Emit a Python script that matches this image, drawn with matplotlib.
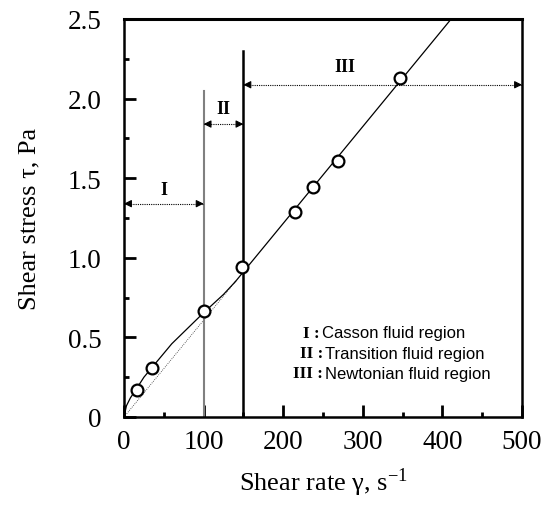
import matplotlib
matplotlib.use("Agg")
import matplotlib.pyplot as plt
from matplotlib.ticker import MultipleLocator, FuncFormatter

plt.rcParams['font.family'] = ['Liberation Serif', 'DejaVu Serif']
plt.rcParams['mathtext.fontset'] = 'stix'

# measured data
shear_rate = [16, 35, 100, 148, 215, 238, 269, 347]
shear_stress = [0.17, 0.31, 0.665, 0.94, 1.285, 1.445, 1.605, 2.13]

# fitted Casson curve
casson_x = [0, 3, 8, 16, 25, 35, 60, 100, 125, 140]
casson_y = [0, 0.07, 0.12, 0.18, 0.25, 0.31, 0.46, 0.655, 0.77, 0.851]

# Newtonian line
newton_x = [0, 140, 411]
newton_y = [0, 0.851, 2.5]

# region boundaries
boundary_x = [100, 150]
boundary_top = [2.05, 2.30]
region_names = ["I", "II", "III"]
region_start = [0, 100, 150]
region_end = [100, 150, 500]
region_arrow_y = [1.34, 1.84, 2.087]
region_label_y = [1.43, 1.94, 2.2]
region_label_x = [50, 125, 278]

legend_numerals = ["I :", "II :", "III :"]
legend_texts = ["Casson fluid region", "Transition fluid region", "Newtonian fluid region"]

fig = plt.figure(figsize=(5.5, 5.1), dpi=100)
ax = fig.add_axes([0.2255, 0.1804, 0.9491 - 0.2255, 0.9608 - 0.1804])

# Newtonian dotted part and solid part
ax.plot(newton_x[:2], newton_y[:2], color='#333333', lw=0.6, ls=(0, (1, 1.5)))
ax.plot(newton_x[1:], newton_y[1:], color='black', lw=0.9)
ax.plot(casson_x, casson_y, color='black', lw=0.9)

ax.plot(shear_rate, shear_stress, 'o', ms=8.5, mfc='white', mec='black', mew=1.6, zorder=5)

# boundaries
ax.plot([boundary_x[0]] * 2, [0, boundary_top[0]], color='#808080', lw=1.5)
ax.plot([boundary_x[1]] * 2, [0, boundary_top[1]], color='black', lw=1.8)

for name, x0, x1, ya, yl, xl in zip(region_names, region_start, region_end,
                                    region_arrow_y, region_label_y, region_label_x):
    ax.plot([x0, x1], [ya, ya], color='black', lw=0.8, ls=(0, (1, 1)))
    L = 8
    ax.annotate('', xy=(x0, ya), xytext=(x0 + L, ya),
                arrowprops=dict(arrowstyle='-|>', color='black', lw=0.8,
                                mutation_scale=11, shrinkA=0, shrinkB=0))
    ax.annotate('', xy=(x1, ya), xytext=(x1 - L, ya),
                arrowprops=dict(arrowstyle='-|>', color='black', lw=0.8,
                                mutation_scale=11, shrinkA=0, shrinkB=0))
    ax.text(xl, yl, name, ha='center', va='center', fontsize=13, fontweight='bold')

# legend text
leg_y = [0.528, 0.40, 0.276]
num_x = [246, 250, 250]
for num, txt, y, nx in zip(legend_numerals, legend_texts, leg_y, num_x):
    ax.text(nx, y, num, ha='right', va='center', fontsize=12.5, fontweight='bold')
    ax.text(nx + 3, y, txt, ha='left', va='center', fontsize=12,
            family=['Liberation Sans', 'DejaVu Sans'])

ax.set_xlim(0, 500)
ax.set_ylim(0, 2.5)
ax.xaxis.set_major_locator(MultipleLocator(100))
ax.xaxis.set_minor_locator(MultipleLocator(50))
ax.yaxis.set_major_locator(MultipleLocator(0.5))
ax.yaxis.set_minor_locator(MultipleLocator(0.25))
ax.yaxis.set_major_formatter(FuncFormatter(lambda v, p: '0' if v == 0 else f'{v:.1f}'))
ax.tick_params(which='both', direction='in', width=2, labelsize=19.5)
ax.tick_params(which='major', length=8.5)
ax.tick_params(which='minor', length=3.6)
ax.tick_params(axis='x', which='major', pad=9)
ax.tick_params(axis='y', which='major', pad=16)
for s in ax.spines.values():
    s.set_linewidth(1.8)
ax.spines['top'].set_linewidth(2.2)

ax.set_xlabel('Shear rate γ, s$^{\\mathregular{-1}}$', fontsize=19, labelpad=8)
ax.set_ylabel('Shear stress τ, Pa', fontsize=19, labelpad=20)

fig.savefig('out.png', dpi=100)
